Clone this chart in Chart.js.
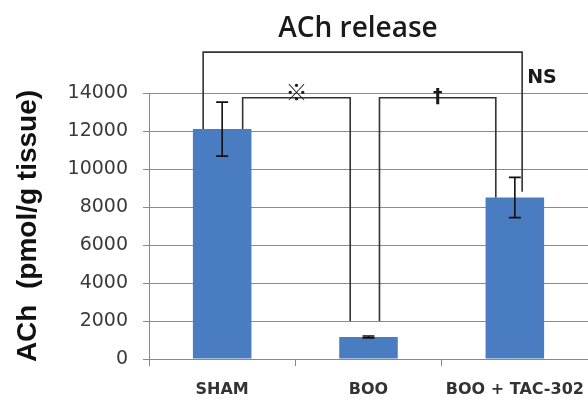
<!DOCTYPE html>
<html>
<head>
<meta charset="utf-8">
<script src="https://cdn.jsdelivr.net/npm/chart.js@4"></script>
<style>
  html, body { margin: 0; padding: 0; background: #fff; }
  #wrap { width: 588px; height: 402px; }
</style>
</head>
<body>
<div id="wrap"><canvas id="ach-chart" width="588" height="402"></canvas></div>
<script>
// Dữ liệu biểu đồ
const groups = ["SHAM", "BOO", "BOO + TAC-302"];
const achValues = [12100, 1160, 8500];
const achErrors = [1420, 50, 1060];
const yTicks = [0, 2000, 4000, 6000, 8000, 10000, 12000, 14000];

// Các cặp so sánh (chỉ số nhóm + ký hiệu)
const pairFrom = [0, 1, 0];
const pairTo = [1, 2, 2];
const pairMarks = ["※", "†", "NS"];

const ctx = document.getElementById("ach-chart").getContext("2d");

// Vẽ thanh sai số
const errorBarPlugin = {
    id: "errorBars",
    afterDatasetsDraw(chart) {
        const c = chart.ctx;
        const meta = chart.getDatasetMeta(0);
        const y = chart.scales.y;
        c.save();
        c.strokeStyle = "#111";
        c.lineWidth = 1.6;
        meta.data.forEach((bar, i) => {
            const x = bar.x;
            const hi = y.getPixelForValue(achValues[i] + achErrors[i]);
            const lo = y.getPixelForValue(achValues[i] - achErrors[i]);
            c.beginPath();
            c.moveTo(x, hi); c.lineTo(x, lo);
            c.moveTo(x - 6, hi); c.lineTo(x + 6, hi);
            c.moveTo(x - 6, lo); c.lineTo(x + 6, lo);
            c.stroke();
        });
        c.restore();
    }
};

// Vẽ tiêu đề và các đường so sánh
const bracketPlugin = {
    id: "brackets",
    afterDraw(chart) {
        const c = chart.ctx;
        const xs = chart.scales.x;
        const ys = chart.scales.y;
        c.save();
        c.fillStyle = "#1a1a1a";
        c.font = "600 28px 'Open Sans', sans-serif";
        c.textAlign = "center";
        c.textBaseline = "alphabetic";
        c.fillText("ACh release", 358, 37);

        // hình dạng đường nối: đỉnh, chân trái, chân phải, độ lệch
        const shapes = [
            { top: 13750, endA: achValues[0], endB: 2000, dxA: 0.14, dxB: -0.125 },
            { top: 13750, endA: 2000, endB: achValues[2], dxA: 0.075, dxB: -0.13 },
            { top: 16150, endA: achValues[0], endB: 8800, dxA: -0.13, dxB: 0.05 }
        ];
        c.strokeStyle = "#333";
        c.lineWidth = 1.6;
        shapes.forEach((s, i) => {
            const xa = xs.getPixelForValue(pairFrom[i] + s.dxA);
            const xb = xs.getPixelForValue(pairTo[i] + s.dxB);
            const yt = ys.getPixelForValue(s.top);
            c.beginPath();
            c.moveTo(xa, ys.getPixelForValue(s.endA));
            c.lineTo(xa, yt);
            c.lineTo(xb, yt);
            c.lineTo(xb, ys.getPixelForValue(s.endB));
            c.stroke();

            const mark = pairMarks[i];
            if (mark === "NS") {
                c.font = "bold 19px 'DejaVu Sans', sans-serif";
                c.textAlign = "left";
                c.fillText(mark, xb + 5, yt + 31);
            } else if (mark === "※") {
                c.font = "bold 22px 'Noto Sans CJK JP', sans-serif";
                c.textAlign = "center";
                c.textBaseline = "middle";
                c.fillText(mark, (xa + xb) / 2, yt - 6);
                c.textBaseline = "alphabetic";
            } else {
                c.font = "bold 19px 'DejaVu Sans', sans-serif";
                c.textAlign = "center";
                c.textBaseline = "middle";
                c.fillText(mark, (xa + xb) / 2, yt - 1);
                c.textBaseline = "alphabetic";
            }
        });
        c.restore();
    }
};

new Chart(ctx, {
    type: "bar",
    data: {
        labels: groups,
        datasets: [{
            data: achValues,
            backgroundColor: "#4a7cc2",
            borderWidth: 0,
            barPercentage: 0.4,
            categoryPercentage: 1
        }]
    },
    options: {
        responsive: false,
        animation: false,
        layout: { padding: { top: 93, right: -4, bottom: 0, left: 0 } },
        plugins: {
            legend: { display: false },
            tooltip: { enabled: false },
            title: { display: false }
        },
        scales: {
            x: {
                grid: { drawOnChartArea: false, drawTicks: true, tickLength: 7, color: "#888", offset: true },
                border: { color: "#888" },
                ticks: {
                    autoSkip: false,
                    maxRotation: 0,
                    minRotation: 0,
                    padding: 14,
                    color: "#333",
                    font: { family: "'DejaVu Sans', sans-serif", size: 16, weight: "bold" }
                },
                afterFit(scale) {
                    scale.height = 43;
                    scale.paddingLeft = 0;
                    scale.paddingRight = 0;
                }
            },
            y: {
                min: 0,
                max: 14000,
                afterBuildTicks(scale) {
                    scale.ticks = yTicks.map(v => ({ value: v }));
                },
                grid: { color: "#8a8a8a", tickLength: 6 },
                border: { color: "#888" },
                ticks: {
                    padding: 15,
                    color: "#3a3a3a",
                    font: { family: "'DejaVu Sans', sans-serif", size: 19 },
                    callback: v => String(v)
                },
                title: {
                    display: true,
                    text: "ACh  (pmol/g tissue)",
                    color: "#111",
                    padding: { top: 11, bottom: 0 },
                    font: { family: "'Liberation Sans', Arial, sans-serif", size: 28, weight: "bold" }
                },
                afterFit(scale) {
                    scale.width = 149;
                }
            }
        }
    },
    plugins: [errorBarPlugin, bracketPlugin]
});
</script>
</body>
</html>
